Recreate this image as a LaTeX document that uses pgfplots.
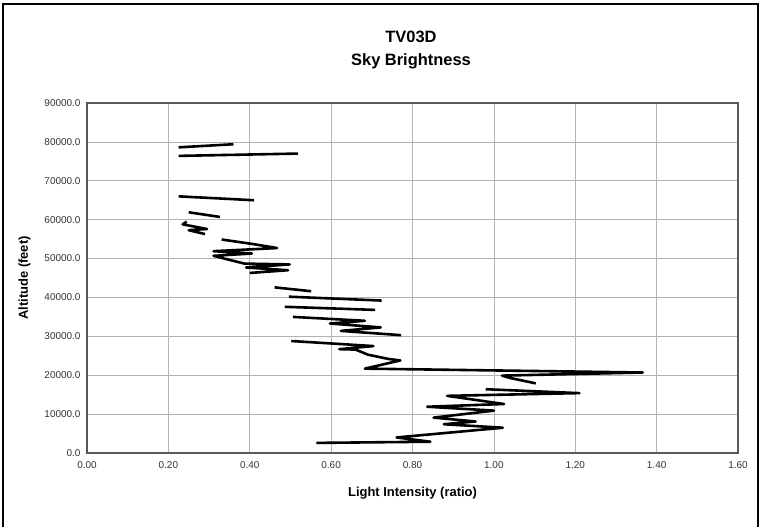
\documentclass[border=0pt]{standalone}
\usepackage{pgfplots}
\pgfplotsset{compat=1.18}
\usepackage{pgfplotstable}
\usepackage{fontspec}
\setmainfont{Liberation Sans}
\pgfplotstableread{
x y
0.564 2600
0.844 2900
0.761 4000
1.022 6500
0.877 7400
0.955 8100
0.852 9100
1.000 10900
0.836 11900
1.025 12600
0.885 14700
1.210 15400
0.980 16400
nan nan
1.103 17900
1.040 19300
1.020 19900
1.366 20700
0.683 21700
0.770 23800
0.740 24200
0.690 25300
0.660 26600
0.620 26700
0.704 27500
0.502 28800
nan nan
0.772 30300
0.624 31400
0.722 32300
0.597 33300
0.683 34000
0.506 35000
nan nan
0.708 36800
0.486 37600
nan nan
0.724 39200
0.496 40200
nan nan
0.551 41600
0.461 42600
nan nan
0.400 46300
0.494 47000
0.391 47700
0.498 48500
0.387 48700
0.311 50700
0.405 51300
0.311 51900
0.467 52700
0.410 53700
0.331 54900
nan nan
0.290 56300
0.250 57300
0.295 57600
0.235 58800
0.245 59500
nan nan
0.327 60700
0.250 61900
nan nan
0.410 65000
0.225 66000
nan nan
0.519 77000
0.225 76400
nan nan
0.360 79400
0.225 78600
}\skydata
\begin{document}
\begin{tikzpicture}[x=1bp,y=1bp]
\path[use as bounding box] (0,0) rectangle (762,-527);
\draw[line width=2bp] (3,-527) -- (3,-4) -- (758,-4) -- (758,-527);
\node[font=\bfseries\fontsize{16.5}{19}\selectfont] at (411,-37) {TV03D};
\node[font=\bfseries\fontsize{16.5}{19}\selectfont] at (411,-61) {Sky Brightness};
\begin{axis}[
  at={(87bp,-453bp)}, anchor=south west,
  scale only axis, width=651bp, height=350bp,
  xmin=0, xmax=1.6, ymin=0, ymax=90000,
  xtick={0,0.2,0.4,0.6,0.8,1.0,1.2,1.4,1.6},
  ytick={0,10000,20000,30000,40000,50000,60000,70000,80000,90000},
  grid=major, grid style={black!30, line width=0.7bp},
  axis line style={black!65, line width=1.3bp},
  tick style={draw=none},
  scaled ticks=false,
  xticklabel style={yshift=-5bp, /pgf/number format/.cd, fixed, fixed zerofill, precision=2},
  yticklabel style={xshift=-3bp, /pgf/number format/.cd, fixed, fixed zerofill, precision=1, 1000 sep={}},
  /pgf/number format/assume math mode=true,
  ticklabel style={font=\fontsize{10}{12}\selectfont, text=black!80},
  xlabel={Light Intensity (ratio)},
  ylabel={Altitude (feet)},
  xlabel style={font=\bfseries\fontsize{13}{15}\selectfont, at={(axis description cs:0.5,-0.114)}, anchor=center},
  ylabel style={font=\bfseries\fontsize{13}{15}\selectfont, at={(axis description cs:-0.096,0.5)}, anchor=center},
  unbounded coords=jump,
]
\addplot[black, line width=2.6bp, line join=round, mark=none] table[x=x,y=y] {\skydata};
\end{axis}
\end{tikzpicture}
\end{document}
